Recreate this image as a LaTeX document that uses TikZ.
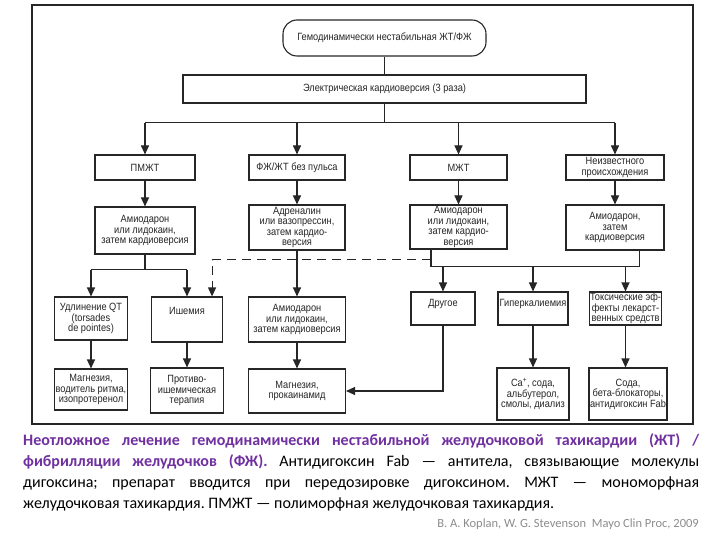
\documentclass[tikz,border=0pt]{standalone}
\usepackage{fontspec}
\setmainfont{Liberation Sans}
\newfontfamily\df[FakeStretch=0.88]{Liberation Sans}
\newfontfamily\cf{Carlito}
\usetikzlibrary{arrows.meta,calc}
\definecolor{purp}{HTML}{7030A0}
\definecolor{ink}{HTML}{262626}
\definecolor{citegray}{HTML}{8C8C8C}
\frenchspacing
\begin{document}
\begin{tikzpicture}[x=1pt,y=-1pt,
  box/.style={draw=ink, line width=1.1pt, rectangle, inner sep=1pt, align=center,
    font=\df\fontsize{10.5}{10.5}\selectfont, text=ink},
  ln/.style={draw=ink, line width=1.1pt},
  arr/.style={ln, -{Triangle[length=9pt,width=8pt]}},
  dsh/.style={ln, dash pattern=on 9pt off 6pt}]
\fill[white] (0,0) rectangle (720,540);
\useasboundingbox (0,0) rectangle (720,540);
% frame
\draw[draw=ink, line width=1.3pt] (32,5) rectangle (693,424);
% top
\node[box, rounded corners=14pt, minimum width=203pt, minimum height=36pt] (top) at (384.5,38) {Гемодинамически нестабильная ЖТ/ФЖ};
\node[box, minimum width=403pt, minimum height=28pt] (cardio) at (384.5,89) {Электрическая кардиоверсия (3 раза)};
% row 1
\node[box, minimum width=100pt, minimum height=25pt] (pmzht) at (145,167.5) {ПМЖТ};
\node[box, minimum width=96pt, minimum height=25pt] (fzh) at (297,167.5) {ФЖ/ЖТ без пульса};
\node[box, minimum width=97pt, minimum height=25pt] (mzht) at (458.5,167.5) {МЖТ};
\node[box, minimum width=98pt, minimum height=25pt] (unk) at (615,167.5) {Неизвестного\\происхождения};
% row 2
\node[box, minimum width=100pt, minimum height=47pt] (amio1) at (145,230.5) {Амиодарон\\или лидокаин,\\затем кардиоверсия};
\node[box, minimum width=96pt, minimum height=45pt] (adr) at (297,227.5) {Адреналин\\или вазопрессин,\\затем кардио-\\версия};
\node[box, minimum width=97pt, minimum height=44pt] (amio2) at (458.5,227) {Амиодарон\\или лидокаин,\\затем кардио-\\версия};
\node[box, minimum width=98pt, minimum height=45pt] (amio3) at (615,227.5) {Амиодарон,\\затем\\кардиоверсия};
% row 3
\node[box, minimum width=73pt, minimum height=43pt] (qt) at (91,318.5) {Удлинение QT\\(torsades\\de pointes)};
\node[box, minimum width=71pt, text height=16pt, text depth=27pt] (isch) at (187,319.5) {Ишемия};
\node[box, minimum width=97pt, minimum height=45pt] (amio4) at (297,319.5) {Амиодарон\\или лидокаин,\\затем кардиоверсия};
\node[box, minimum width=64pt, text height=13pt, text depth=18pt] (other) at (443,308.5) {Другое};
\node[box, minimum width=70pt, text height=13pt, text depth=18pt] (hyperk) at (533,308.5) {Гиперкалиемия};
\node[box, minimum width=72pt, minimum height=33pt] (tox) at (625.5,308.5) {Токсические эф-\\фекты лекарст-\\венных средств};
% row 4
\node[box, minimum width=73pt, minimum height=41pt] (mag1) at (91,389.5) {Магнезия,\\водитель ритма,\\изопротеренол};
\node[box, minimum width=73pt, minimum height=45pt] (anti) at (187,390.5) {Противо-\\ишемическая\\терапия};
\node[box, minimum width=97pt, minimum height=44pt] (mag2) at (297,391) {Магнезия,\\прокаинамид};
\node[box, minimum width=72pt, minimum height=52pt] (ca) at (533,394) {Ca\textsuperscript{+}, сода,\\альбутерол,\\смолы, диализ};
\node[box, minimum width=76pt, minimum height=52pt] (soda) at (628,394) {Сода,\\бета-блокаторы,\\антидигоксин Fab};
% connectors
\draw[ln] (top) -- (cardio);
\coordinate (j1) at ($(cardio.south)+(0,19)$);
\draw[ln] (cardio.south) -- (j1);
\draw[ln] (pmzht.north |- j1) -- (unk.north |- j1);
\foreach \n in {pmzht,fzh,mzht,unk} \draw[arr] (\n.north |- j1) -- (\n.north);
\draw[arr] (pmzht) -- (amio1);
\draw[arr] (fzh) -- (adr);
\draw[arr] (mzht) -- (amio2);
\draw[arr] (unk) -- (amio3);
\coordinate (j2) at ($(amio1.south)+(0,15)$);
\draw[ln] (amio1.south) -- (j2);
\draw[ln] (qt.north |- j2) -- (isch.north |- j2);
\draw[arr] (qt.north |- j2) -- (qt.north);
\draw[arr] (isch.north |- j2) -- (isch.north);
\coordinate (k1) at ($(amio2.south west)!0.22!(amio2.south east)$);
\coordinate (k2) at ($(amio3.south west)!0.75!(amio3.south east)$);
\coordinate (k1b) at ($(k1)+(0,17)$);
\draw[ln] (k1) -- (k1b) -- (k2 |- k1b) -- (k2);
\foreach \n in {other,hyperk,tox} \draw[arr] (\n.north |- k1b) -- (\n.north);
\coordinate (d1) at ($(k1)+(0,10)$);
\coordinate (d2) at ($(isch.north east)+(-11,0)$);
\draw[dsh, -{Triangle[length=9pt,width=8pt]}] (d1) -| (d2);
\draw[arr] (adr) -- (amio4);
\draw[arr] (qt) -- (mag1);
\draw[arr] (isch) -- (anti);
\draw[arr] (amio4) -- (mag2);
\draw[arr] (hyperk) -- (ca);
\draw[arr] (tox.south) -- (tox.south |- soda.north);
\draw[arr] (other.south) |- (mag2.east);
% caption
\node[anchor=north west, inner sep=0pt, text width=676pt, align=justify,
  font=\cf\fontsize{16}{21.3}\selectfont] (cap) at (23,433)
  {\hyphenpenalty=10000 \exhyphenpenalty=10000 \textcolor{purp}{\bfseries Неотложное лечение гемодинамически нестабильной желудочковой тахикардии (ЖТ) /\linebreak фибрилляции желудочков (ФЖ).} Антидигоксин Fab — антитела, связывающие молекулы\linebreak дигоксина; препарат вводится при передозировке дигоксином. МЖТ — мономорфная\linebreak желудочковая тахикардия. ПМЖТ — полиморфная желудочковая тахикардия.};
\node[anchor=base east, inner sep=0pt, font=\cf\fontsize{12.5}{14}\selectfont, text=citegray] (ref) at (699,527) {B. A. Koplan, W. G. Stevenson\ \ Mayo Clin Proc, 2009};
\end{tikzpicture}
\end{document}
